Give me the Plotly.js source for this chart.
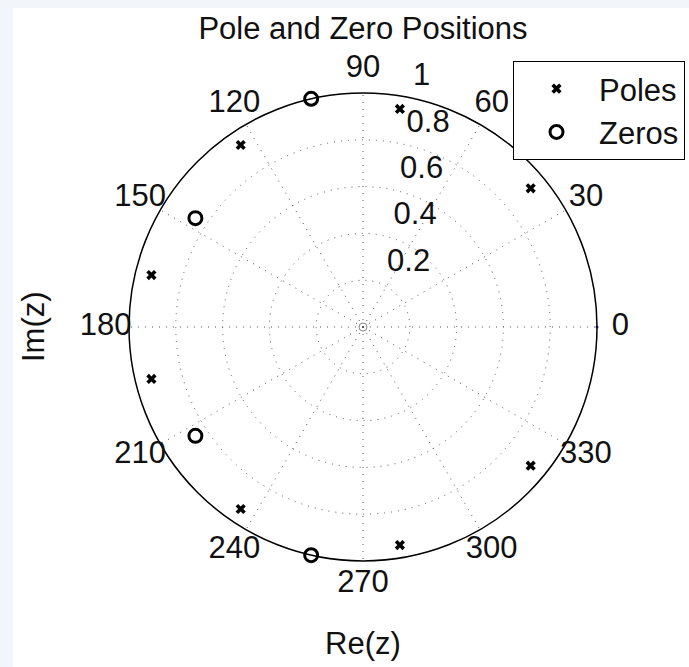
<!DOCTYPE html>
<html>
<head>
<meta charset="utf-8">
<script src="https://cdn.plot.ly/plotly-3.0.1.min.js"></script>
<style>
html,body{margin:0;padding:0;background:#f2f6fa;}
#chart{width:689px;height:667px;}
</style>
</head>
<body>
<div id="chart"></div>
<script>
// Data
const poleTheta = [80.4, 39.6, 123.9, 166.2, 193.8, 236.1, 279.6, 320.4];
const poleR     = [0.945, 0.93, 0.937, 0.931, 0.931, 0.937, 0.945, 0.93];
const zeroTheta = [102.8, 147.0, 213.0, 257.2];
const zeroR     = [1.0, 0.854, 0.854, 1.0];
const originTheta = [0];
const originR = [0];
const edgeTheta = [0];
const edgeR = [1];
const angleTicks = [0, 30, 60, 90, 120, 150, 180, 210, 240, 270, 300, 330];
const radialTicks = [0.2, 0.4, 0.6, 0.8, 1];
const radialTickLabels = ['0.2', '0.4', '0.6', '0.8', '1'];

const FONT = 'Liberation Sans, Arial, sans-serif';
const FS = 31;
const W = 689, H = 667;
const cx = 363, cy = 327, R = 234;
const R2 = R * 1.1;

const traces = [
  {
    type: 'scatterpolar', mode: 'markers', name: 'Poles',
    r: poleR, theta: poleTheta,
    marker: {symbol: 'x', size: 9, color: '#000'},
    cliponaxis: false
  },
  {
    type: 'scatterpolar', mode: 'markers', name: 'Zeros',
    r: zeroR, theta: zeroTheta,
    marker: {symbol: 'circle-open', size: 13, color: '#000', line: {width: 3, color: '#000'}},
    cliponaxis: false
  },
  {
    type: 'scatterpolar', mode: 'markers', showlegend: false, hoverinfo: 'skip',
    r: originR, theta: originTheta,
    marker: {symbol: 'circle-open', size: 8, color: '#888', line: {width: 1, color: '#888'}}
  },
  {
    type: 'scatterpolar', mode: 'markers', showlegend: false, hoverinfo: 'skip',
    r: edgeR, theta: edgeTheta,
    marker: {symbol: 'circle', size: 3, color: '#2233cc'},
    cliponaxis: false
  },
  {
    type: 'scatterpolar', subplot: 'polar2', mode: 'text', showlegend: false, hoverinfo: 'skip',
    r: angleTicks.map(() => 1.1), theta: angleTicks,
    text: angleTicks.map(String),
    textposition: 'middle center',
    textfont: {family: FONT, size: FS, color: '#111'},
    cliponaxis: false
  },
  {
    type: 'scatterpolar', subplot: 'polar2', mode: 'text', showlegend: false, hoverinfo: 'skip',
    r: radialTicks.map(v => v + 0.01), theta: radialTicks.map(() => 82),
    text: radialTickLabels.map(s => '\u00a0\u00a0' + s),
    textposition: 'top right',
    textfont: {family: FONT, size: FS, color: '#111'},
    cliponaxis: false
  }
];

const hiddenAxis = {showline: false, showgrid: false, showticklabels: false, ticks: ''};

const layout = {
  width: W, height: H,
  margin: {l: 0, r: 0, t: 0, b: 0, autoexpand: false},
  paper_bgcolor: '#f2f6fa',
  font: {family: FONT, size: FS, color: '#111'},
  title: {text: 'Pole and Zero Positions', x: cx / W, xanchor: 'center', y: 1 - 28 / H, yanchor: 'middle',
          font: {family: FONT, size: FS, color: '#111'}},
  shapes: [{type: 'rect', xref: 'paper', yref: 'paper', x0: 13 / W, x1: 1, y0: 0, y1: 1 - 8 / H,
            fillcolor: '#ffffff', line: {width: 0}, layer: 'below'}],
  polar: {
    domain: {x: [(cx - R) / W, (cx + R) / W], y: [(H - cy - R) / H, (H - cy + R) / H]},
    bgcolor: 'rgba(0,0,0,0)',
    radialaxis: {range: [0, 1], tickvals: [0.2, 0.4, 0.6, 0.8], showticklabels: false, ticks: '',
                 showline: false, showgrid: true, gridcolor: '#555', gridwidth: 1, griddash: '1px,6px'},
    angularaxis: {tickvals: angleTicks, showticklabels: false, ticks: '', direction: 'counterclockwise',
                  rotation: 0, showline: true, linecolor: '#000', linewidth: 1.5,
                  showgrid: true, gridcolor: '#555', gridwidth: 1, griddash: '1px,6px'}
  },
  polar2: {
    domain: {x: [(cx - R2) / W, (cx + R2) / W], y: [(H - cy - R2) / H, (H - cy + R2) / H]},
    bgcolor: 'rgba(0,0,0,0)',
    radialaxis: Object.assign({range: [0, 1.1]}, hiddenAxis),
    angularaxis: Object.assign({direction: 'counterclockwise', rotation: 0}, hiddenAxis)
  },
  annotations: [
    {text: 'Re(z)', xref: 'paper', yref: 'paper', x: cx / W, y: 1 - 643 / H, showarrow: false,
     xanchor: 'center', yanchor: 'middle', font: {family: FONT, size: FS, color: '#111'}},
    {text: 'Im(z)', xref: 'paper', yref: 'paper', x: 33 / W, y: 1 - cy / H, showarrow: false, textangle: -90,
     xanchor: 'center', yanchor: 'middle', font: {family: FONT, size: FS, color: '#111'}}
  ],
  showlegend: true,
  legend: {x: 513 / W, y: 1 - 61 / H, xanchor: 'left', yanchor: 'top', bgcolor: '#fff',
           bordercolor: '#000', borderwidth: 1, itemwidth: 75, entrywidth: 190,
           font: {family: FONT, size: FS, color: '#111'}}
};

Plotly.newPlot('chart', traces, layout, {displayModeBar: false, staticPlot: true});
</script>
</body>
</html>
